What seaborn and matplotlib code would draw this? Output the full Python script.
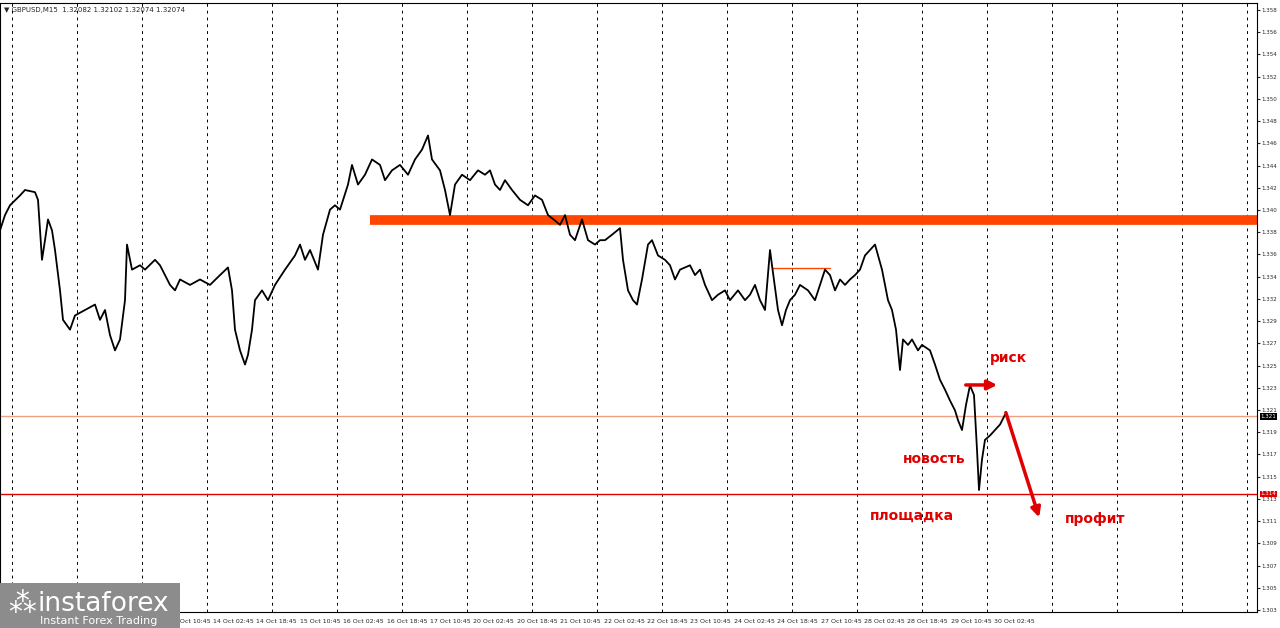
import numpy as np
import pandas as pd
import matplotlib
matplotlib.use("Agg")
import matplotlib.pyplot as plt
from matplotlib.patches import Rectangle
import seaborn as sns

sns.set_style("white")
plt.rcParams['font.family'] = ['DejaVu Sans', 'Noto Sans']

# price path (bar position, close)
bars = [0, 5, 10, 20, 25, 35, 38, 42, 45, 48, 52, 55, 60, 63, 70, 75, 85, 95, 100, 105,
        110, 115, 120, 125, 127, 132, 140, 145, 155, 160, 165, 170, 175, 180, 190, 200, 210, 220, 228, 232,
        235, 240, 245, 248, 252, 255, 262, 268, 275, 285, 295, 300, 305, 310, 318, 323, 330, 335, 340, 348,
        352, 358, 365, 372, 380, 385, 392, 400, 408, 415, 422, 428, 432, 440, 445, 450, 455, 462, 470, 478,
        485, 490, 495, 500, 505, 512, 520, 528, 535, 542, 548, 555, 560, 565, 570, 575, 582, 588, 595, 600,
        605, 612, 620, 623, 628, 633, 637, 642, 648, 652, 658, 665, 670, 675, 680, 690, 695, 700, 705, 712,
        718, 725, 730, 738, 745, 750, 755, 760, 765, 770, 772, 778, 782, 786, 790, 795, 800, 808, 815, 820,
        825, 830, 835, 840, 845, 850, 855, 860, 865, 870, 875, 878, 882, 885, 888, 892, 896, 900, 903, 908,
        912, 918, 922, 930, 935, 940, 945, 950, 955, 958, 962, 966, 970, 974, 977, 979, 982, 985, 990, 995,
        1000, 1005]
close = [1.3378, 1.3392, 1.3401, 1.3410, 1.3415, 1.3413, 1.3406, 1.3351, 1.3369, 1.3388, 1.3378, 1.3360, 1.3323, 1.3296, 1.3287, 1.3300, 1.3305, 1.3310, 1.3296, 1.3305,
         1.3282, 1.3268, 1.3278, 1.3314, 1.3365, 1.3342, 1.3346, 1.3342, 1.3351, 1.3346, 1.3337, 1.3328, 1.3323, 1.3333, 1.3328, 1.3333, 1.3328, 1.3337, 1.3344, 1.3323,
         1.3287, 1.3268, 1.3255, 1.3264, 1.3287, 1.3314, 1.3323, 1.3314, 1.3328, 1.3342, 1.3355, 1.3365, 1.3351, 1.3360, 1.3342, 1.3374, 1.3397, 1.3401, 1.3397, 1.3420,
         1.3438, 1.3420, 1.3429, 1.3443, 1.3438, 1.3424, 1.3433, 1.3438, 1.3429, 1.3443, 1.3452, 1.3465, 1.3443, 1.3433, 1.3415, 1.3392, 1.3420, 1.3429, 1.3424, 1.3433,
         1.3429, 1.3433, 1.3420, 1.3415, 1.3424, 1.3415, 1.3406, 1.3401, 1.3410, 1.3406, 1.3392, 1.3387, 1.3383, 1.3392, 1.3374, 1.3369, 1.3388, 1.3369, 1.3365, 1.3369,
         1.3369, 1.3374, 1.3380, 1.3351, 1.3323, 1.3314, 1.3310, 1.3333, 1.3365, 1.3369, 1.3355, 1.3351, 1.3346, 1.3333, 1.3342, 1.3346, 1.3337, 1.3342, 1.3328, 1.3314,
         1.3319, 1.3323, 1.3314, 1.3323, 1.3314, 1.3319, 1.3328, 1.3314, 1.3305, 1.3360, 1.3346, 1.3305, 1.3291, 1.3305, 1.3314, 1.3319, 1.3328, 1.3323, 1.3314, 1.3328,
         1.3342, 1.3337, 1.3323, 1.3333, 1.3328, 1.3333, 1.3337, 1.3342, 1.3355, 1.3360, 1.3365, 1.3355, 1.3342, 1.3328, 1.3314, 1.3305, 1.3287, 1.3250, 1.3278, 1.3273,
         1.3278, 1.3268, 1.3273, 1.3268, 1.3255, 1.3241, 1.3232, 1.3222, 1.3213, 1.3204, 1.3195, 1.3218, 1.3236, 1.3227, 1.3177, 1.3140, 1.3168, 1.3186, 1.3190, 1.3195,
         1.3200, 1.3209]

resistance = 1.33875
support = 1.31364
bid = 1.32074
mid_level = 1.33435
y_ticks = [1.35800 - 0.002037 * i for i in range(28)]
time_labels = ["13 Oct 10:45", "14 Oct 02:45", "14 Oct 18:45", "15 Oct 10:45", "16 Oct 02:45",
               "16 Oct 18:45", "17 Oct 10:45", "20 Oct 02:45", "20 Oct 18:45", "21 Oct 10:45",
               "22 Oct 02:45", "22 Oct 18:45", "23 Oct 10:45", "24 Oct 02:45", "24 Oct 18:45",
               "27 Oct 10:45", "28 Oct 02:45", "28 Oct 18:45", "29 Oct 10:45", "30 Oct 02:45"]
time_pos = [190 + 43.4 * i for i in range(len(time_labels))]

df = pd.DataFrame({"bar": bars, "close": close})

fig = plt.figure(figsize=(12.8, 6.28), dpi=100)
ax = fig.add_axes([0, 16 / 628, 1257 / 1280, 609 / 628])
ax.set_xlim(0, 1257)
ax.set_ylim(1.30282, 1.35864)

for gx in np.arange(12, 1257, 65):
    ax.axvline(gx, color="black", lw=0.7, ls=(0, (3, 4)), zorder=0)

ax.plot([370, 1257], [resistance, resistance], color="#ff4500", lw=7, solid_capstyle="butt", zorder=2)
ax.plot([772, 830], [mid_level, mid_level], color="#ff4500", lw=1, zorder=2)
ax.axhline(bid, color="#f0a080", lw=1, zorder=1)
ax.axhline(support, color="#e00000", lw=1, zorder=1)

sns.lineplot(data=df, x="bar", y="close", color="black", lw=1.3, ax=ax, zorder=3)

red = "#e00000"
ax.annotate("", xy=(1000, 1.32363), xytext=(963, 1.32363),
            arrowprops=dict(arrowstyle="-|>", color=red, lw=2.5, mutation_scale=14))
ax.annotate("", xy=(1040, 1.31125), xytext=(1005, 1.32134),
            arrowprops=dict(arrowstyle="-|>", color=red, lw=2.5, mutation_scale=14))
ax.text(990, 1.32575, "риск", color=red, fontsize=10, fontweight="bold")
ax.text(903, 1.3165, "новость", color=red, fontsize=10, fontweight="bold")
ax.text(870, 1.3113, "площадка", color=red, fontsize=10, fontweight="bold")
ax.text(1065, 1.3110, "профит", color=red, fontsize=10, fontweight="bold")
ax.text(4, 1.3580, "▼ GBPUSD,M15  1.32082 1.32102 1.32074 1.32074", fontsize=5, va="center")

ax.set_xticks(time_pos)
ax.set_xticklabels(time_labels, fontsize=4.5)
ax.yaxis.tick_right()
ax.set_yticks(y_ticks)
ax.set_yticklabels([f"{v:.3f}" for v in y_ticks], fontsize=4)
ax.tick_params(axis="y", length=2, pad=1)
ax.tick_params(axis="x", length=3, pad=2)
ax.set_xlabel("")
ax.set_ylabel("")
for s in ax.spines.values():
    s.set_color("black")
    s.set_linewidth(0.8)

for val, bg, fg in [(bid, "black", "white"), (support, red, "white")]:
    ax.text(1.003, val, f"{val:.3f}", transform=ax.get_yaxis_transform(), fontsize=4,
            color=fg, va="center", bbox=dict(boxstyle="square,pad=0.15", fc=bg, ec="none"))

# logo watermark
fig.patches.append(Rectangle((0, 0), 180 / 1280, 45 / 628, transform=fig.transFigure,
                             fc="#8c8c8c", ec="none", zorder=10))
fig.text(38 / 1280, 24 / 628, "instaforex", color="white", fontsize=19, va="center", zorder=11)
fig.text(40 / 1280, 7 / 628, "Instant Forex Trading", color="white", fontsize=8, va="center", zorder=11)
fig.text(8 / 1280, 24 / 628, "⁂", color="white", fontsize=20, va="center", zorder=11)

fig.savefig("out.png", dpi=100)
